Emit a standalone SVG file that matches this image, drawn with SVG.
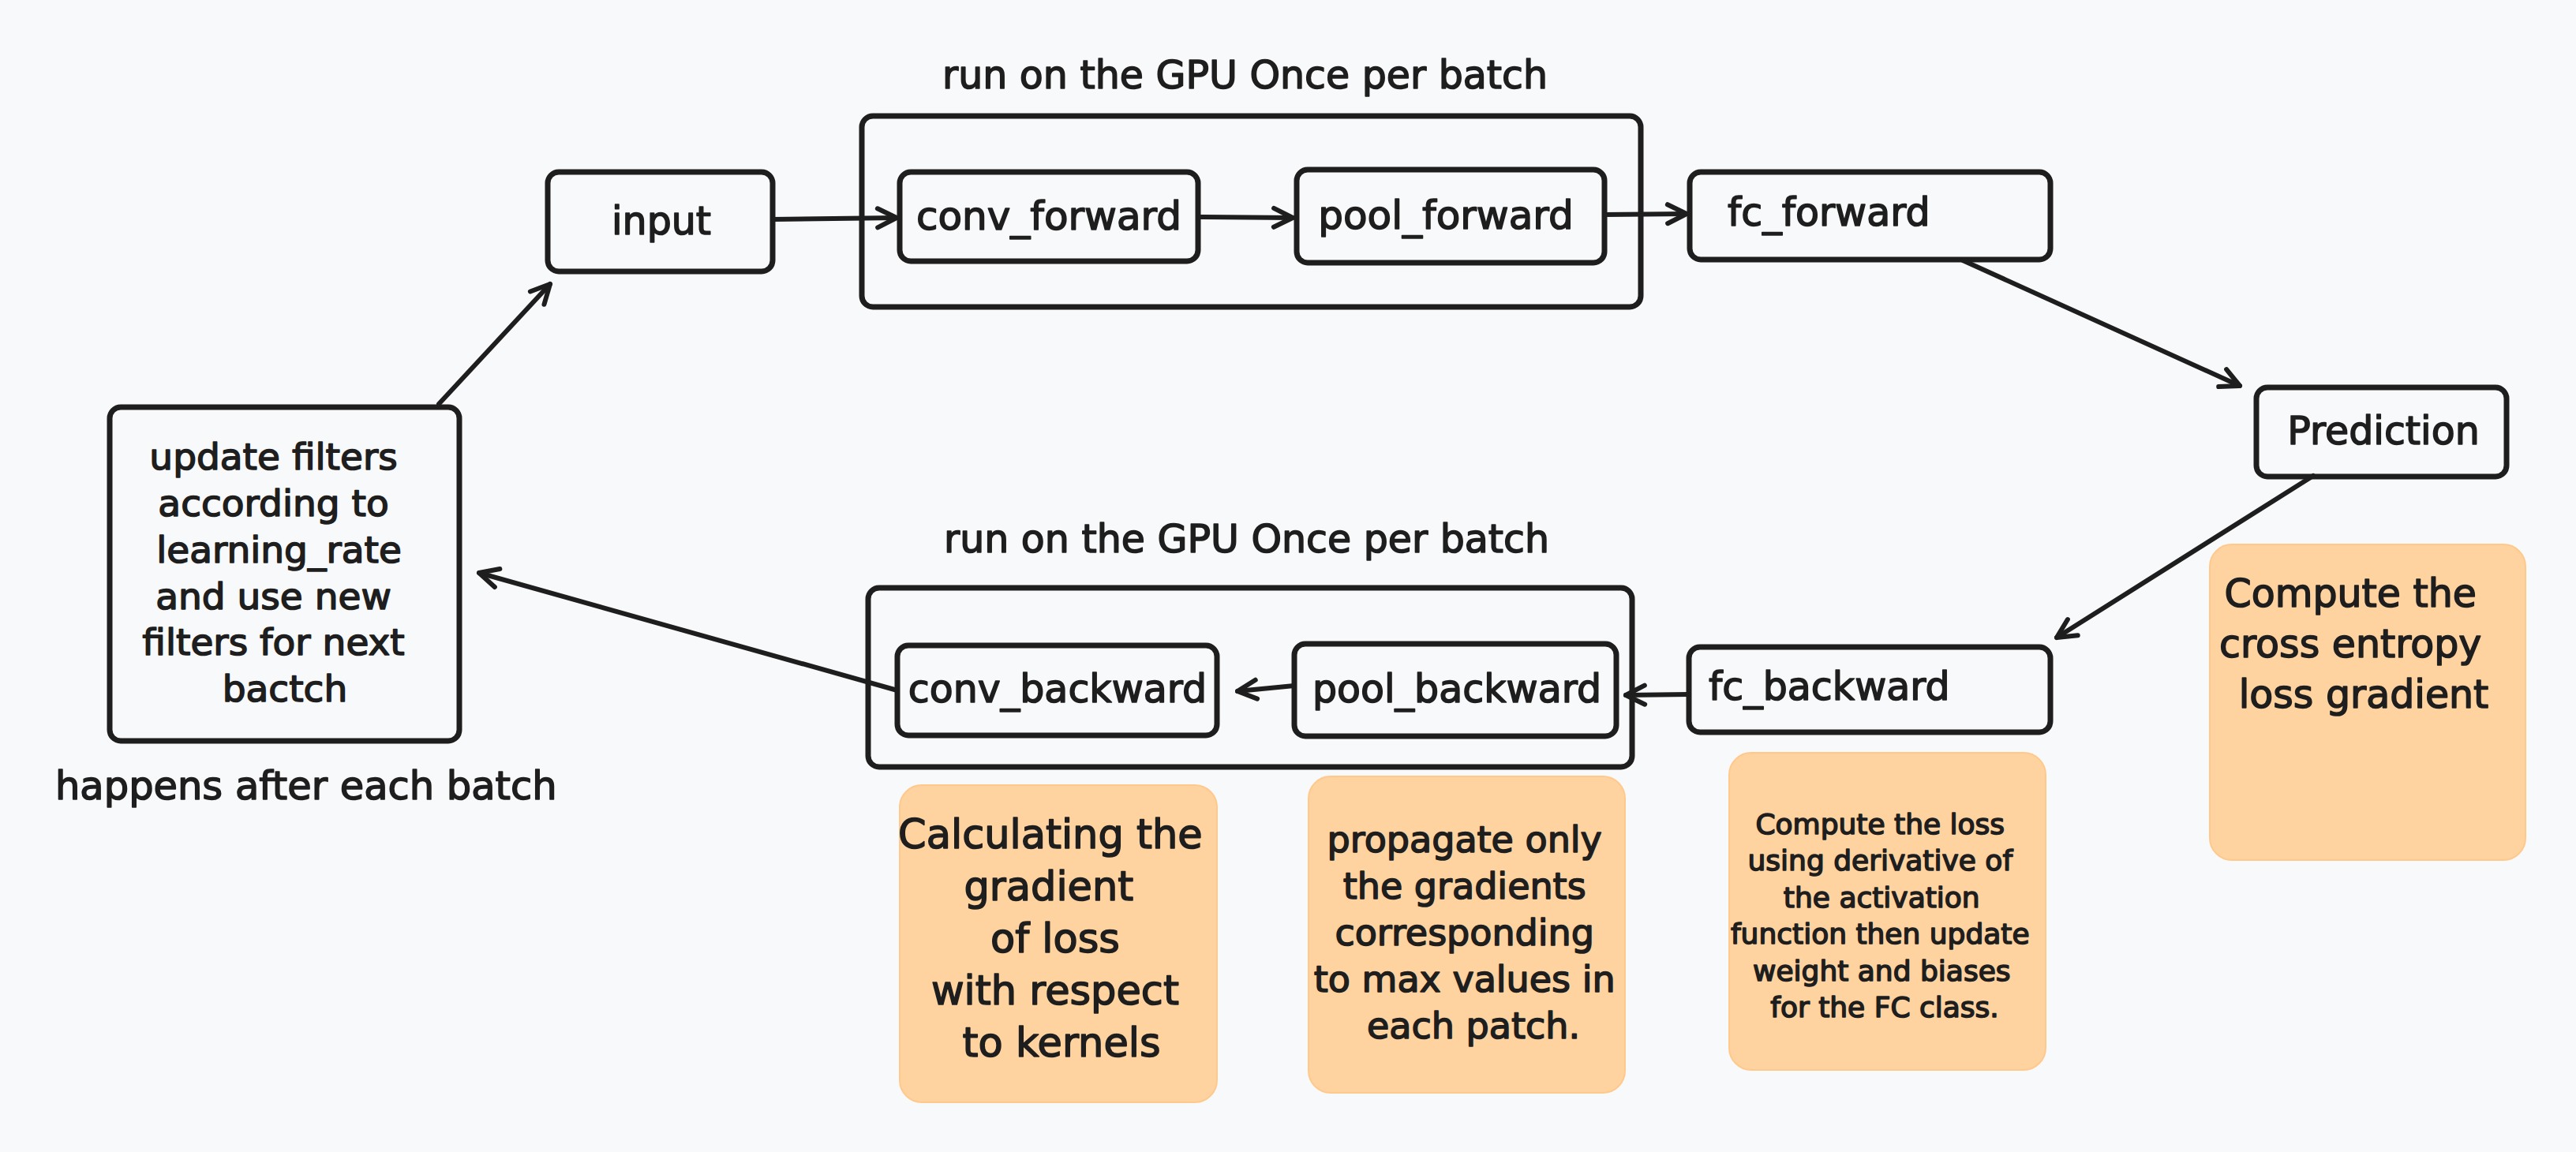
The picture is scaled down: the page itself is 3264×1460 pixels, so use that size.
<svg xmlns="http://www.w3.org/2000/svg" width="3264" height="1460" viewBox="0 0 3264 1460">
<style>
.bg{fill:#f8f9fb}
.node{fill:none;stroke:#1e1e1e;stroke-width:7;stroke-linejoin:round}
.note{fill:#ffd3a0;stroke:#ffc98c;stroke-width:2}
.t{font-family:"DejaVu Sans","Liberation Sans",sans-serif;fill:#1e1e1e;stroke:#1e1e1e;stroke-width:1.6;stroke-linejoin:round}
.c{text-anchor:middle}
.edge{fill:none;stroke:#1e1e1e;stroke-width:6;stroke-linecap:round}
</style>
<defs>
<marker id="arr" markerUnits="userSpaceOnUse" viewBox="-34 -22 40 44" markerWidth="40" markerHeight="44" refX="0" refY="0" orient="auto">
<path d="M-24,-12 L0,0 L-24,12" fill="none" stroke="#1e1e1e" stroke-width="6" stroke-linecap="round" stroke-linejoin="round"/>
</marker>
</defs>
<rect class="bg" x="0" y="0" width="3264" height="1460"/>

<g id="labels">
<text class="t" x="1194" y="112" font-size="49">run on the GPU Once per batch</text>
<text class="t" x="1196" y="700" font-size="49">run on the GPU Once per batch</text>
<text class="t" x="70" y="1013" font-size="49.5">happens after each batch</text>
</g>

<g id="gpu-forward-group">
<rect class="node" x="1092" y="147" width="987" height="242" rx="14"/>
</g>
<g id="gpu-backward-group">
<rect class="node" x="1100" y="745" width="968" height="227" rx="14"/>
</g>

<g id="input">
<rect class="node" x="694" y="218" width="285" height="126" rx="14"/>
<text class="t c" x="838" y="297" font-size="49">input</text>
</g>

<g id="conv_forward">
<rect class="node" x="1140" y="218" width="378" height="113" rx="14"/>
<text class="t c" x="1329" y="291" font-size="50">conv_forward</text>
</g>

<g id="pool_forward">
<rect class="node" x="1643" y="215" width="390" height="118" rx="14"/>
<text class="t c" x="1832" y="290" font-size="50">pool_forward</text>
</g>

<g id="fc_forward">
<rect class="node" x="2141" y="218" width="457" height="111" rx="14"/>
<text class="t" x="2189" y="286" font-size="49">fc_forward</text>
</g>

<g id="prediction">
<rect class="node" x="2859" y="491" width="317" height="113" rx="14"/>
<text class="t c" x="3020" y="563" font-size="49">Prediction</text>
</g>

<g id="fc_backward">
<rect class="node" x="2140" y="820" width="458" height="108" rx="14"/>
<text class="t" x="2165" y="887" font-size="49">fc_backward</text>
</g>

<g id="pool_backward">
<rect class="node" x="1640" y="816" width="408" height="117" rx="14"/>
<text class="t c" x="1846" y="890" font-size="49">pool_backward</text>
</g>

<g id="conv_backward">
<rect class="node" x="1137" y="818" width="405" height="114" rx="14"/>
<text class="t c" x="1340" y="890" font-size="49">conv_backward</text>
</g>

<g id="update_filters">
<rect class="node" x="139" y="516" width="443" height="423" rx="14"/>
<text class="t c" font-size="47">
<tspan x="354" y="595">update filters</tspan>
<tspan x="354" y="654">according to</tspan>
<tspan x="361" y="713">learning_rate</tspan>
<tspan x="354" y="772">and use new</tspan>
<tspan x="354" y="830">filters for next</tspan>
<tspan x="361" y="889">bactch</tspan>
</text>
</g>

<g id="note-cross-entropy">
<rect class="note" x="2800" y="690" width="400" height="400" rx="28"/>
<text class="t c" font-size="49">
<tspan x="2986" y="769">Compute the</tspan>
<tspan x="2986" y="833">cross entropy</tspan>
<tspan x="2995" y="897">loss gradient</tspan>
</text>
</g>

<g id="note-fc-backward">
<rect class="note" x="2191" y="954" width="401" height="402" rx="28"/>
<text class="t c" font-size="36">
<tspan x="2388" y="1057">Compute the loss</tspan>
<tspan x="2388" y="1103">using derivative of</tspan>
<tspan x="2390" y="1150">the activation</tspan>
<tspan x="2388" y="1196">function then update</tspan>
<tspan x="2390" y="1243">weight and biases</tspan>
<tspan x="2388" y="1289">for the FC class.</tspan>
</text>
</g>

<g id="note-conv-backward">
<rect class="note" x="1140" y="995" width="402" height="402" rx="28"/>
<text class="t c" font-size="51">
<tspan x="1339" y="1075">Calculating the</tspan>
<tspan x="1337" y="1141">gradient</tspan>
<tspan x="1345" y="1207">of loss</tspan>
<tspan x="1345" y="1273">with respect</tspan>
<tspan x="1345" y="1339">to kernels</tspan>
</text>
</g>

<g id="note-pool-backward">
<rect class="note" x="1658" y="984" width="401" height="401" rx="28"/>
<text class="t c" font-size="46">
<tspan x="1863" y="1080">propagate only</tspan>
<tspan x="1863" y="1139">the gradients</tspan>
<tspan x="1863" y="1198">corresponding</tspan>
<tspan x="1863" y="1257">to max values in</tspan>
<tspan x="1867" y="1316">each patch.</tspan>
</text>
</g>

<g id="connectors">
<path class="edge" marker-end="url(#arr)" d="M556,512 L697,360"/>
<path class="edge" marker-end="url(#arr)" d="M979,278 L1136,276"/>
<path class="edge" marker-end="url(#arr)" d="M1518,275 L1638,276"/>
<path class="edge" marker-end="url(#arr)" d="M2033,272 L2137,271"/>
<path class="edge" marker-end="url(#arr)" d="M2487,330 L2838,489"/>
<path class="edge" marker-end="url(#arr)" d="M2931,603 L2606,808"/>
<path class="edge" marker-end="url(#arr)" d="M2140,880 L2060,881"/>
<path class="edge" marker-end="url(#arr)" d="M1640,869 L1568,876"/>
<path class="edge" marker-end="url(#arr)" d="M1137,875 L607,726"/>
</g>
</svg>
